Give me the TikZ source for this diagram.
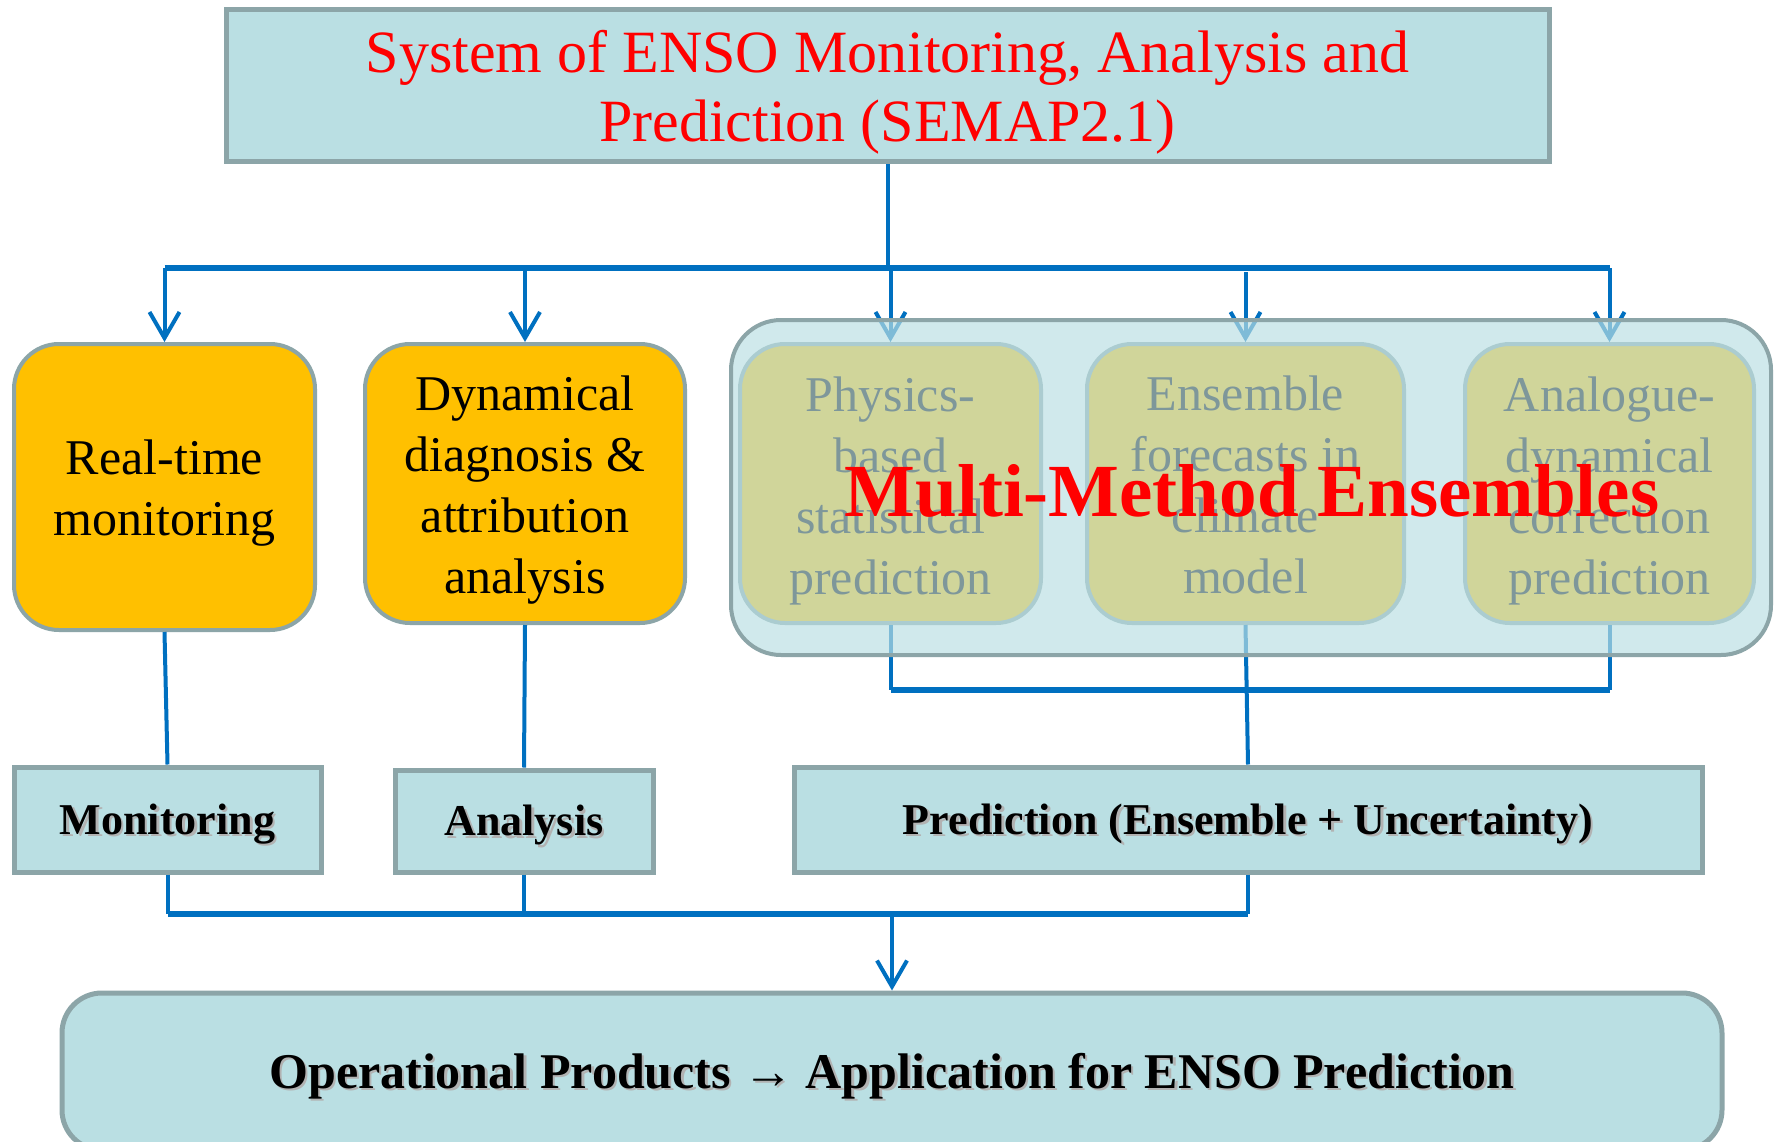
\documentclass[tikz,border=0pt]{standalone}
\usepackage{fontspec}
\setmainfont{Liberation Serif}
\usetikzlibrary{arrows.meta}

\definecolor{boxfill}{RGB}{186,223,227}
\definecolor{boxline}{RGB}{140,165,168}
\definecolor{gold}{RGB}{255,192,0}
\definecolor{flow}{RGB}{0,112,192}
\definecolor{titlered}{RGB}{255,0,0}

% bold label with a soft drop shadow
\newcommand\shlabel[1]{\leavevmode\rlap{\kern2.5pt\raisebox{-2.5pt}{\color{black!30}#1}}#1}

\tikzset{
  panel/.style={draw=boxline, line width=5pt, fill=boxfill, inner sep=0pt},
  goldbox/.style={draw=boxline, line width=4pt, fill=gold, rounded corners=45pt,
    inner sep=0pt},
  goldtxt/.style={align=center, inner sep=0pt, yshift=-7pt,
    font=\fontsize{50}{61}\selectfont},
  groupbox/.style={draw=boxline, line width=4pt, fill=boxfill, fill opacity=0.68,
    rounded corners=50pt, inner sep=0pt},
  boldlbl/.style={font=\fontsize{44}{50}\selectfont\bfseries,
    text height=29pt, text depth=0pt},
  link/.style={draw=flow, line width=4pt},
  bus/.style={draw=flow, line width=6pt},
  feed/.style={draw=flow, line width=4pt, -{Straight Barb[length=26pt,width=30pt]}},
}

\begin{document}
\begin{tikzpicture}[x=1pt,y=-1pt]
\useasboundingbox (0,0) rectangle (1778,1142);
\fill[white] (0,0) rectangle (1778,1142);

% title
\node[panel, minimum width=1323pt, minimum height=152pt,
      label={[align=center, inner sep=0pt, yshift=-6pt, text=titlered,
              font=\fontsize{60}{69}\selectfont]center:{System of ENSO Monitoring, Analysis and\\Prediction (SEMAP2.1)}}]
  (sys) at (887.5,86) {};

% first row
\node[goldbox, minimum width=301pt, minimum height=286pt,
      label={[goldtxt, yshift=1pt]center:{Real-time\\monitoring}}] (rt) at (164.5,487) {};
\node[goldbox, minimum width=320pt, minimum height=279pt,
      label={[goldtxt]center:{Dynamical\\diagnosis \&\\attribution\\analysis}}] (dyn) at (525,483.5) {};
\node[goldbox, minimum width=301pt, minimum height=279pt,
      label={[goldtxt]center:{Physics-\\based\\statistical\\prediction}}] (phys) at (890.5,483.5) {};
\node[goldbox, minimum width=317pt, minimum height=279pt,
      label={[goldtxt, yshift=5.5pt]center:{Ensemble\\forecasts in\\climate\\model}}] (ens) at (1245.5,483.5) {};
\node[goldbox, minimum width=289pt, minimum height=279pt,
      label={[goldtxt]center:{Analogue-\\dynamical\\correction\\prediction}}] (ana) at (1609.5,483.5) {};

% distribution bus from the title
\coordinate (busL) at (164.5,268);
\coordinate (busR) at (1609.5,268);
\path[link] (sys.south) -- (sys.south |- busL);
\path[bus] (busL) -- (busR);
\foreach \n in {rt,dyn,phys,ana}
  \path[feed] (\n.north |- busL) -- (\n.north);
\path[feed] ([yshift=-4pt]ens.north |- busL) -- (ens.north);

% collecting bus below the prediction methods
\coordinate (midL) at (890.5,690);
\coordinate (midR) at (1609.5,690);
\path[link] (phys.south) -- (midL);
\path[link] (ana.south) -- (midR);
\path[bus] (midL) -- (midR);

% second row
\node[panel, minimum width=307pt, minimum height=105pt, boldlbl] (mon) at (167.5,819.5)
  {\shlabel{Monitoring}};
\node[panel, minimum width=258pt, minimum height=102pt, boldlbl] (anl) at (524,821)
  {\shlabel{Analysis}};
\node[panel, minimum width=908pt, minimum height=105pt, boldlbl] (pred) at (1248,819.5)
  {\shlabel{Prediction (Ensemble + Uncertainty)}};

\path[link] (rt.south) -- (mon.north);
\path[link] (dyn.south) -- (anl.north);
\path[link] (ens.south) -- (pred.north);

% multi-method group, laid over the three prediction methods
\node[groupbox, minimum width=1040pt, minimum height=335pt] (group) at (1251,487.5) {};
\node[text=titlered, font=\fontsize{75}{80}\selectfont\bfseries, anchor=base] (mme)
  at (1252,516) {Multi-Method Ensembles};

% operational products
\node[panel, rounded corners=40pt, minimum width=1660pt, minimum height=157pt,
      font=\fontsize{50}{56}\selectfont\bfseries, text height=33pt, text depth=0pt]
  (ops) at (892,1071.5)
  {\shlabel{Operational Products → Application for ENSO Prediction}};

\coordinate (lowL) at (167.5,914);
\coordinate (lowR) at (1248,914);
\path[link] (mon.south) -- (lowL);
\path[link] (anl.south) -- (anl.south |- lowL);
\path[link] (pred.south) -- (lowR);
\path[bus] (lowL) -- (lowR);
\path[feed] (ops.north |- lowL) -- (ops.north);
\end{tikzpicture}
\end{document}
